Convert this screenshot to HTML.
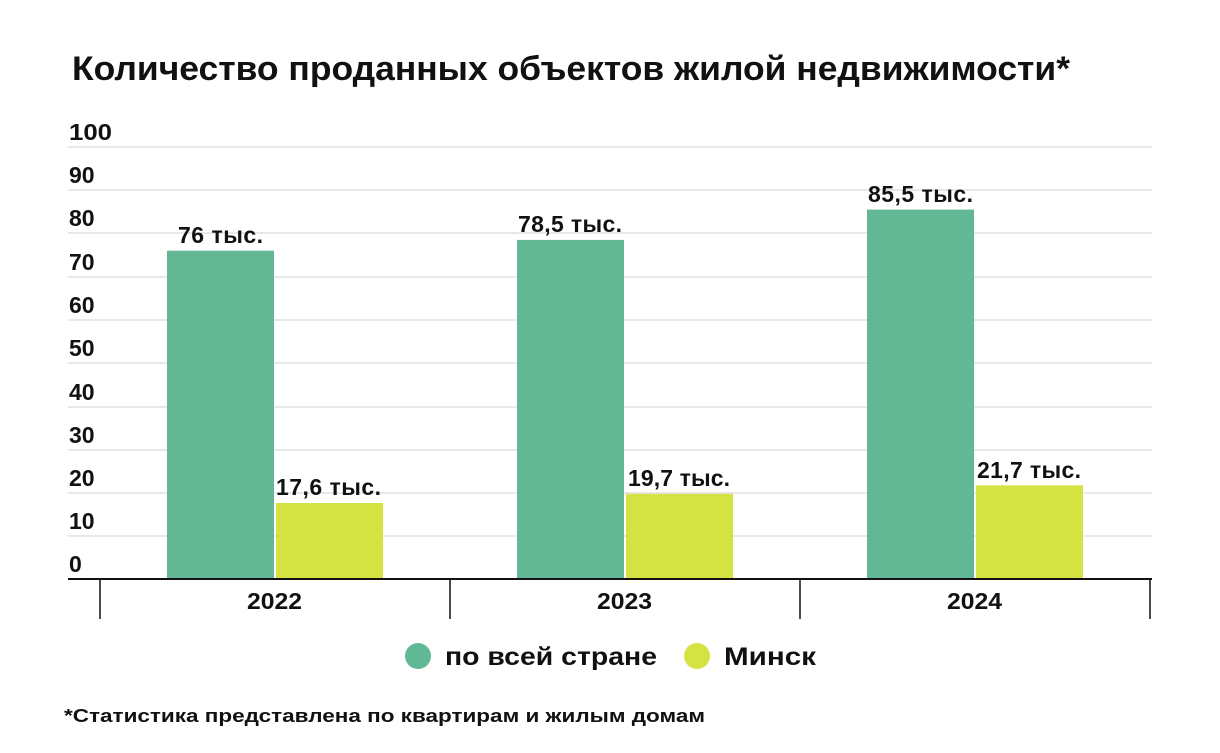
<!DOCTYPE html>
<html><head><meta charset="utf-8"><style>
body{margin:0;background:#fff;}
svg{display:block;font-family:"Liberation Sans","DejaVu Sans",sans-serif;font-weight:bold;}
</style></head><body>
<svg width="1220" height="753" viewBox="0 0 1220 753">
<rect width="1220" height="753" fill="#fff"/>
<text x="72" y="80" font-size="34" fill="#111" textLength="998" lengthAdjust="spacingAndGlyphs">Количество проданных объектов жилой недвижимости*</text>
<g stroke="#d0d0d0" stroke-width="1">
<line x1="68" y1="147" x2="1152" y2="147"/><line x1="68" y1="190" x2="1152" y2="190"/>
<line x1="68" y1="233" x2="1152" y2="233"/><line x1="68" y1="277" x2="1152" y2="277"/>
<line x1="68" y1="320" x2="1152" y2="320"/><line x1="68" y1="363" x2="1152" y2="363"/>
<line x1="68" y1="407" x2="1152" y2="407"/><line x1="68" y1="450" x2="1152" y2="450"/>
<line x1="68" y1="493" x2="1152" y2="493"/><line x1="68" y1="536" x2="1152" y2="536"/>
</g>
<g font-size="23" fill="#111">
<text x="69" y="140" textLength="43" lengthAdjust="spacingAndGlyphs">100</text><text x="69" y="183">90</text><text x="69" y="226">80</text>
<text x="69" y="270">70</text><text x="69" y="313">60</text><text x="69" y="356">50</text>
<text x="69" y="400">40</text><text x="69" y="443">30</text><text x="69" y="486">20</text>
<text x="69" y="529">10</text><text x="69" y="572">0</text>
</g>
<g fill="#62b795">
<rect x="167" y="250.7" width="107" height="328.3"/>
<rect x="517" y="239.9" width="107" height="339.1"/>
<rect x="867" y="209.6" width="107" height="369.4"/>
</g>
<g fill="#d4e242">
<rect x="276" y="503" width="107" height="76"/>
<rect x="626" y="493.9" width="107" height="85.1"/>
<rect x="976" y="485.3" width="107" height="93.7"/>
</g>
<g font-size="23" fill="#111" lengthAdjust="spacingAndGlyphs">
<text x="178" y="243" textLength="85">76 тыс.</text><text x="276" y="495" textLength="105">17,6 тыс.</text>
<text x="518" y="232" textLength="104">78,5 тыс.</text><text x="628" y="486" textLength="102">19,7 тыс.</text>
<text x="868" y="202" textLength="105">85,5 тыс.</text><text x="977" y="478" textLength="104">21,7 тыс.</text>
</g>
<line x1="68" y1="579" x2="1152" y2="579" stroke="#111" stroke-width="2"/>
<g stroke="#111" stroke-width="1.5">
<line x1="100" y1="579" x2="100" y2="619"/><line x1="450" y1="579" x2="450" y2="619"/>
<line x1="800" y1="579" x2="800" y2="619"/><line x1="1150" y1="579" x2="1150" y2="619"/>
</g>
<g font-size="23" fill="#111">
<text x="247" y="609" textLength="55" lengthAdjust="spacingAndGlyphs">2022</text><text x="597" y="609" textLength="55" lengthAdjust="spacingAndGlyphs">2023</text><text x="947" y="609" textLength="55" lengthAdjust="spacingAndGlyphs">2024</text>
</g>
<circle cx="418" cy="656" r="13" fill="#62b795"/>
<text x="445" y="665" font-size="25" fill="#111" textLength="212" lengthAdjust="spacingAndGlyphs">по всей стране</text>
<circle cx="697" cy="656" r="13" fill="#d4e242"/>
<text x="724" y="665" font-size="25" fill="#111" textLength="92" lengthAdjust="spacingAndGlyphs">Минск</text>
<text x="64" y="722" font-size="18" fill="#111" textLength="641" lengthAdjust="spacingAndGlyphs">*Статистика представлена по квартирам и жилым домам</text>
</svg>
</body></html>
